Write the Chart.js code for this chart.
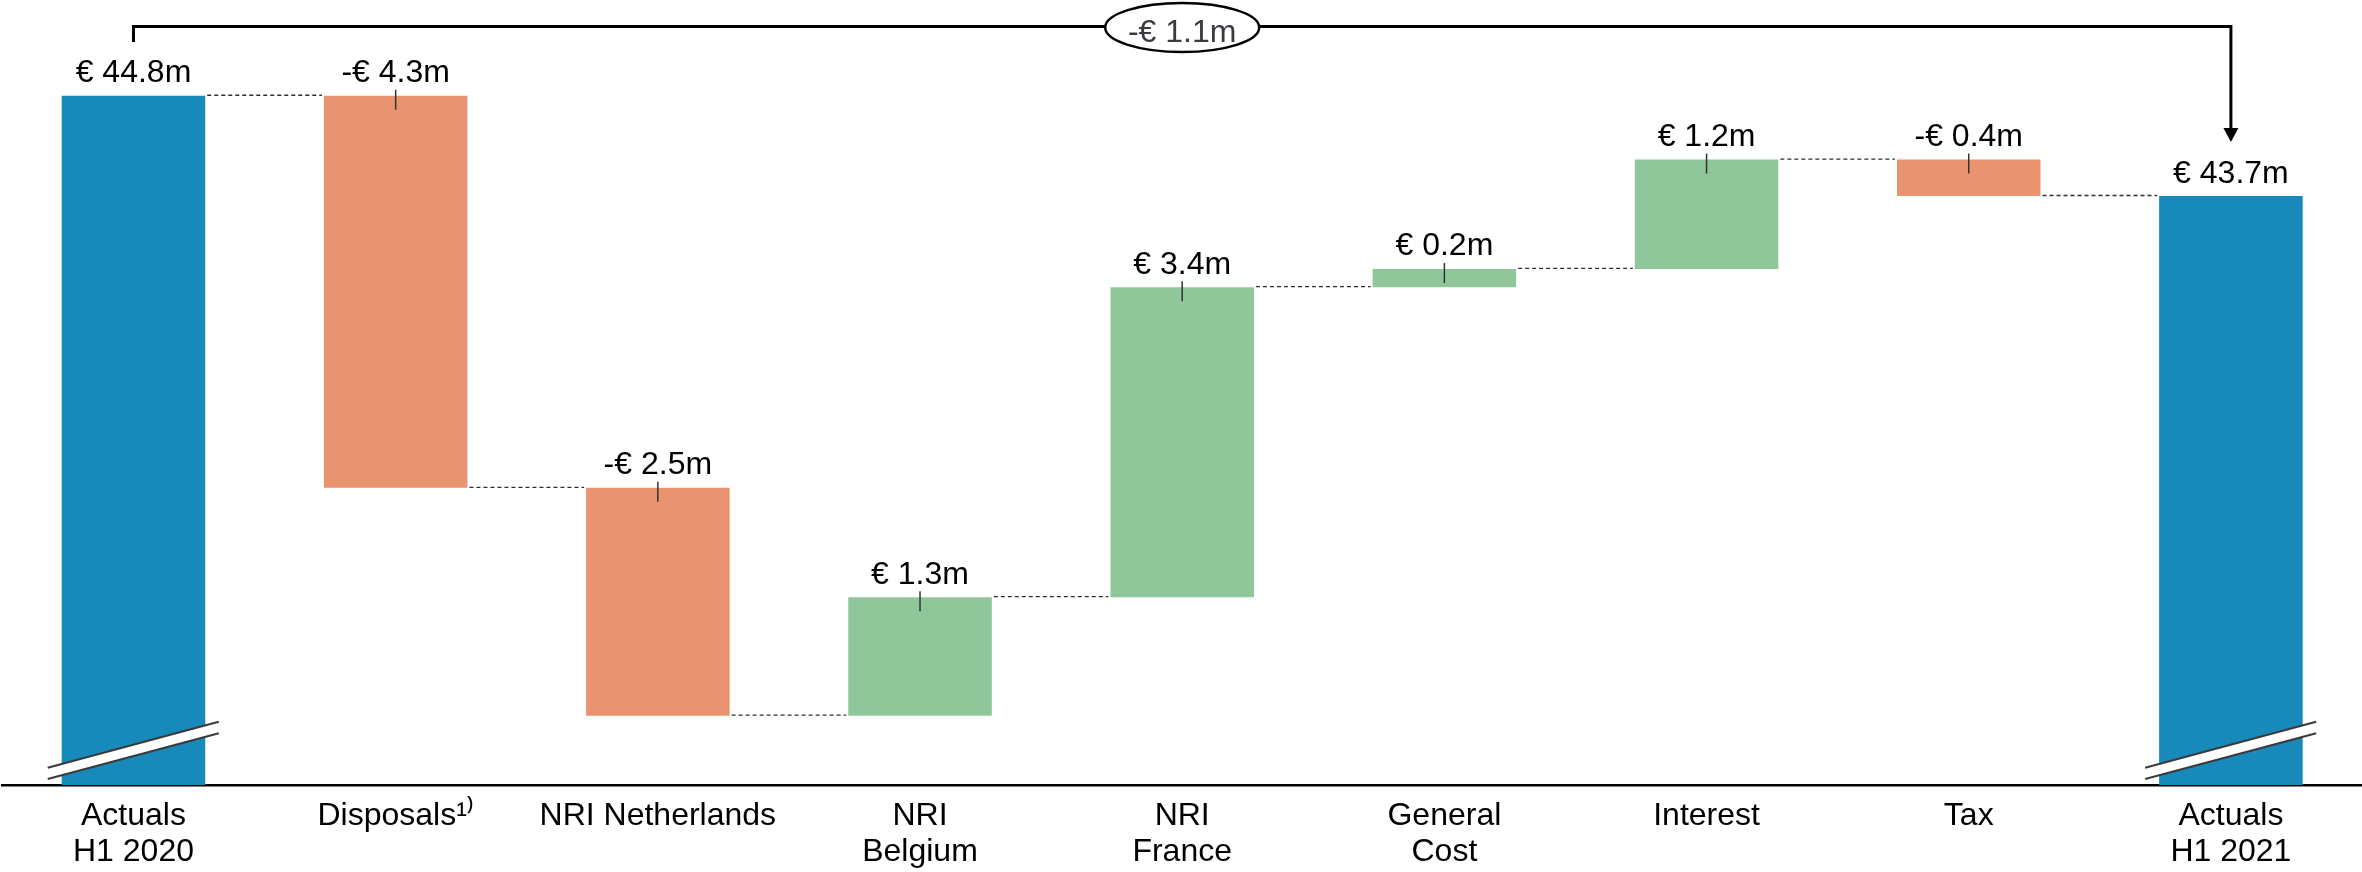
<!DOCTYPE html>
<html>
<head>
<meta charset="utf-8">
<title>Net result bridge H1 2020 – H1 2021</title>
<script src="https://cdn.jsdelivr.net/npm/chart.js@4.4.1/dist/chart.umd.min.js"></script>
<style>
  html, body { margin: 0; padding: 0; background: #fff; }
  #wrap { width: 2362px; height: 872px; position: relative; }
</style>
</head>
<body>
<div id="wrap"><canvas id="bridge"></canvas></div>
<script>
// Bridge steps (EUR millions)
const categories = [
  ['Actuals', 'H1 2020'],
  'Disposals\u00B9\u207E',
  'NRI Netherlands',
  ['NRI', 'Belgium'],
  ['NRI', 'France'],
  ['General', 'Cost'],
  'Interest',
  'Tax',
  ['Actuals', 'H1 2021']
];
const openingTotal = 44.8;
const changes = [-4.3, -2.5, 1.3, 3.4, 0.2, 1.2, -0.4];
const closingTotal = 43.7;

const COLORS = { total: '#1789BA', up: '#8FC79A', down: '#EA9370' };
const FONT = '"Liberation Sans", Arial, Helvetica, sans-serif';

const round1 = v => Math.round(v * 10) / 10;

// Floating bars: totals rise from the axis, changes span from the running total
const bars = [openingTotal];
const kinds = ['total'];
const levels = [openingTotal];
let running = openingTotal;
changes.forEach(d => {
  const next = round1(running + d);
  bars.push([running, next]);
  kinds.push(d >= 0 ? 'up' : 'down');
  levels.push(next);
  running = next;
});
bars.push(closingTotal);
kinds.push('total');
levels.push(closingTotal);
const labelValues = [openingTotal, ...changes, closingTotal];

const fmt = v => (v < 0 ? '-€ ' : '€ ') + Math.abs(v).toFixed(1) + 'm';

const bridgeDecor = {
  id: 'bridgeDecor',
  afterDatasetsDraw(chart) {
    const ctx = chart.ctx;
    const meta = chart.getDatasetMeta(0);
    const ys = chart.scales.y;
    const area = chart.chartArea;
    const els = meta.data;
    const n = els.length;
    const topOf = el => Math.min(el.y, el.base);

    ctx.save();

    // dashed connectors between consecutive bars
    ctx.strokeStyle = '#2e2e2e';
    ctx.lineWidth = 1.3;
    ctx.setLineDash([4, 3]);
    for (let i = 0; i < n - 1; i++) {
      const a = els[i], b = els[i + 1];
      const py = ys.getPixelForValue(levels[i]) - 0.5;
      ctx.beginPath();
      ctx.moveTo(a.x + a.width / 2 + 2, py);
      ctx.lineTo(b.x - b.width / 2 - 2, py);
      ctx.stroke();
    }
    ctx.setLineDash([]);

    // value labels and small marker ticks on the change bars
    ctx.font = '32px ' + FONT;
    ctx.fillStyle = '#000';
    ctx.textAlign = 'center';
    ctx.textBaseline = 'alphabetic';
    for (let i = 0; i < n; i++) {
      const el = els[i];
      const top = topOf(el);
      ctx.fillText(fmt(labelValues[i]), el.x, top - 13.5);
      if (kinds[i] !== 'total') {
        ctx.strokeStyle = '#333';
        ctx.lineWidth = 1.5;
        ctx.beginPath();
        ctx.moveTo(el.x, top - 6);
        ctx.lineTo(el.x, top + 14);
        ctx.stroke();
      }
    }

    // axis-break marks across the total bars
    const bottom = area.bottom;
    for (let i = 0; i < n; i++) {
      if (kinds[i] !== 'total') continue;
      const el = els[i];
      const L = el.x - el.width / 2 - 14;
      const R = el.x + el.width / 2 + 13.5;
      ctx.fillStyle = '#fff';
      ctx.beginPath();
      ctx.moveTo(L, bottom - 17.3);
      ctx.lineTo(R, bottom - 63.3);
      ctx.lineTo(R, bottom - 51.7);
      ctx.lineTo(L, bottom - 6);
      ctx.closePath();
      ctx.fill();
      ctx.strokeStyle = '#3a3a3a';
      ctx.lineWidth = 2;
      ctx.beginPath();
      ctx.moveTo(L, bottom - 17.3);
      ctx.lineTo(R, bottom - 63.3);
      ctx.moveTo(L, bottom - 6);
      ctx.lineTo(R, bottom - 51.7);
      ctx.stroke();
    }

    // overall change bracket from first total to last total
    const first = els[0], last = els[n - 1];
    const yLine = 26.5;
    const tipY = topOf(last) - 54;
    ctx.strokeStyle = '#000';
    ctx.lineWidth = 3;
    ctx.lineJoin = 'miter';
    ctx.beginPath();
    ctx.moveTo(first.x, 42);
    ctx.lineTo(first.x, yLine);
    ctx.lineTo(last.x, yLine);
    ctx.lineTo(last.x, tipY - 13);
    ctx.stroke();
    ctx.fillStyle = '#000';
    ctx.beginPath();
    ctx.moveTo(last.x - 7.5, tipY - 14);
    ctx.lineTo(last.x + 7.5, tipY - 14);
    ctx.lineTo(last.x, tipY);
    ctx.closePath();
    ctx.fill();

    const cx = (first.x + last.x) / 2;
    const cy = 27.5;
    ctx.beginPath();
    ctx.ellipse(cx, cy, 77, 24.5, 0, 0, Math.PI * 2);
    ctx.fillStyle = '#fff';
    ctx.fill();
    ctx.lineWidth = 2.5;
    ctx.strokeStyle = '#000';
    ctx.stroke();
    ctx.fillStyle = '#383c40';
    ctx.font = '32px ' + FONT;
    ctx.textAlign = 'center';
    ctx.textBaseline = 'alphabetic';
    ctx.fillText(fmt(round1(closingTotal - openingTotal)), cx, 42);

    ctx.restore();
  }
};

Chart.defaults.font.family = FONT;
Chart.defaults.color = '#000';

new Chart(document.getElementById('bridge'), {
  type: 'bar',
  data: {
    labels: categories,
    datasets: [{
      data: bars,
      backgroundColor: kinds.map(k => COLORS[k]),
      borderWidth: 0,
      categoryPercentage: 1,
      barPercentage: 0.5475
    }]
  },
  options: {
    responsive: true,
    maintainAspectRatio: false,
    devicePixelRatio: 1,
    animation: false,
    layout: { padding: { left: 2.4, right: -3.8, top: 0, bottom: 0 } },
    plugins: {
      legend: { display: false },
      tooltip: { enabled: false }
    },
    scales: {
      x: {
        z: 1,
        offset: true,
        grid: { display: false, drawTicks: false, tickLength: 0 },
        border: { display: true, color: '#000', width: 2.5 },
        ticks: {
          autoSkip: false,
          maxRotation: 0,
          minRotation: 0,
          padding: 13,
          color: '#000',
          font: { size: 32, lineHeight: 1.13 }
        },
        afterFit(scale) { scale.height = 87; }
      },
      y: {
        display: false,
        min: 37.24,
        max: 45.85
      }
    }
  },
  plugins: [bridgeDecor]
});
</script>
</body>
</html>
